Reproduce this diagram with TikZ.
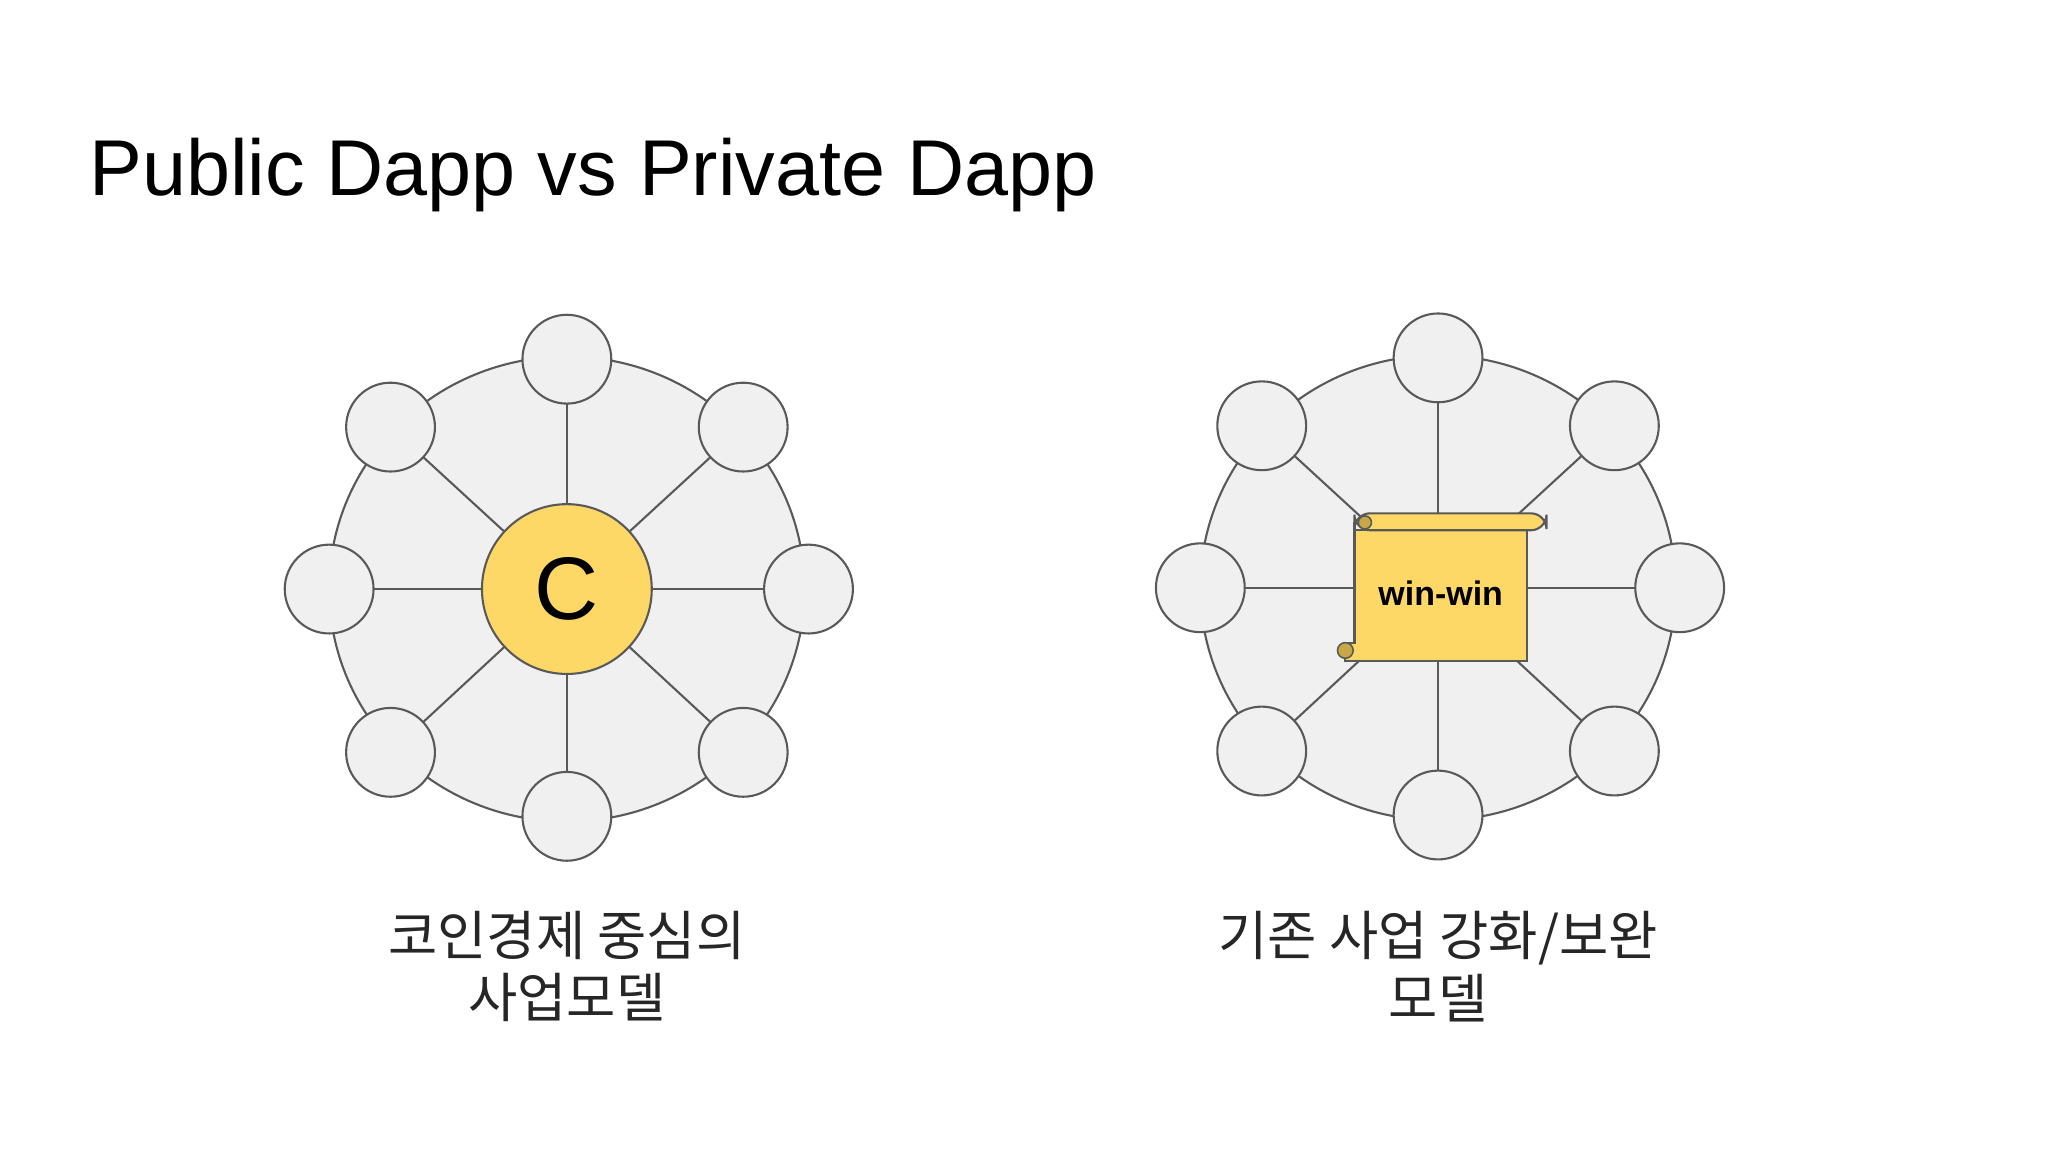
\documentclass[tikz,border=0pt]{standalone}
\usepackage{fontspec}
\usetikzlibrary{calc}
\setmainfont{Liberation Sans}
\newfontfamily\kr{Noto Sans CJK KR}
\begin{document}
\begin{tikzpicture}[x=0.5pt,y=-0.5pt,
  rim/.style={draw=black!65,fill=black!6,line width=0.8pt},
  spoke/.style={draw=black!65,line width=0.8pt},
  outer/.style={circle,draw=black!65,fill=black!6,line width=0.8pt,inner sep=0pt},
  lbl/.style={font=\kr\fontsize{20.5}{24}\selectfont,align=center,text=black!85}]
\useasboundingbox (0,0) rectangle (1568,882);
\fill[white] (0,0) rectangle (1568,882);
\node[anchor=base west,font=\fontsize{30.3}{36}\selectfont,inner sep=0pt] (title) at (68,150) {Public Dapp vs Private Dapp};
\definecolor{scy}{RGB}{254,216,102}
\definecolor{scd}{RGB}{200,168,70}
% left wheel
\coordinate (L) at (434,451);
\draw[rim] (L) circle[x radius=182,y radius=178];
\foreach \dx/\dy/\n in {185/0/a,135/-124/b,0/-176/c,-135/-124/d,-182/0/e,-135/125/f,0/174/g,135/125/h}{
  \coordinate (L\n) at ($(L)+(\dx,\dy)$);
  \draw[spoke] (L) -- (L\n);
}
\foreach \n in {a,b,c,d,e,f,g,h}{\node[outer,minimum size=34pt] (Ln\n) at (L\n) {};}
\node[circle,draw=black!65,fill=scy,line width=0.8pt,minimum size=65pt,font=\fontsize{34}{36}\selectfont] (Lc) at (L) {C};
% right wheel
\coordinate (R) at (1101,450);
\draw[rim] (R) circle[x radius=182,y radius=178];
\foreach \dx/\dy/\n in {185/0/a,135/-124/b,0/-176/c,-135/-124/d,-182/0/e,-135/125/f,0/174/g,135/125/h}{
  \coordinate (R\n) at ($(R)+(\dx,\dy)$);
  \draw[spoke] (R) -- (R\n);
}
\foreach \n in {a,b,c,d,e,f,g,h}{\node[outer,minimum size=34pt] (Rn\n) at (R\n) {};}
% scroll
\draw[draw=black!65,fill=scy,line width=0.8pt] (1037,400) -- (1037,492) -- (1030,492) -- (1030,506) -- (1169,506) -- (1169,406) -- (1037,406);
\draw[draw=black!65,fill=scy,line width=0.8pt,rounded corners=6pt] (1037,393) rectangle (1184,406);
\draw[draw=black!65,fill=scd,line width=0.6pt] (1045,400) circle[radius=5];
\draw[draw=black!65,fill=scd,line width=0.6pt] (1030,498) circle[radius=6];
\node[font=\bfseries\fontsize{13}{15}\selectfont] (ww) at (1103,454) {win-win};
% labels
\node[lbl] (lt) at (434,740) {코인경제 중심의\\사업모델};
\node[lbl] (rt) at (1101,740) {기존 사업 강화/보완\\모델};
\end{tikzpicture}
\end{document}
